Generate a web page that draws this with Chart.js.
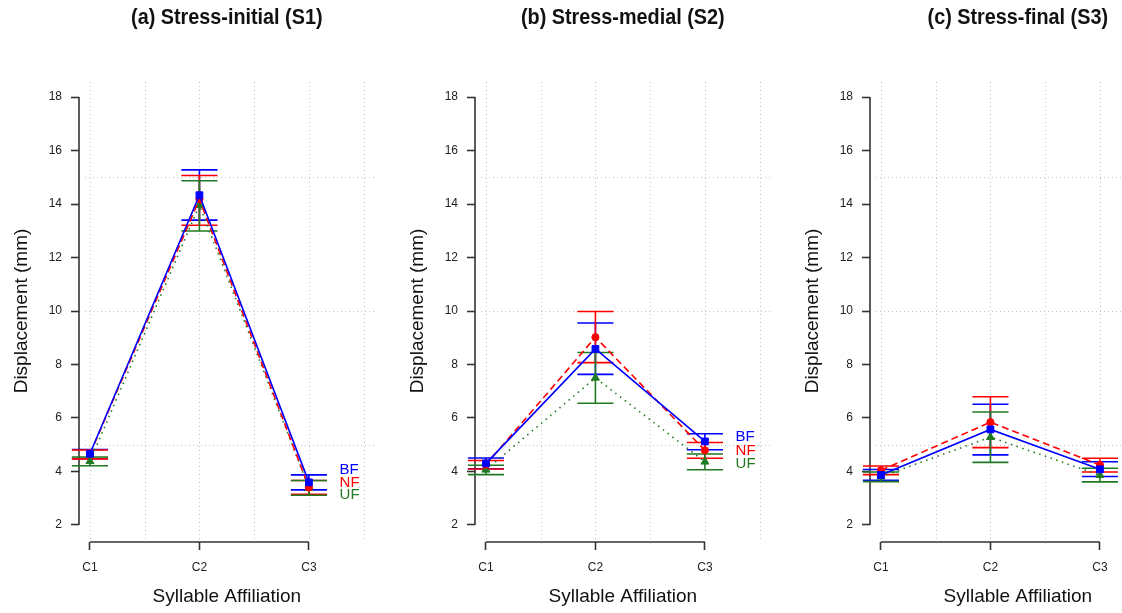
<!DOCTYPE html>
<html><head><meta charset="utf-8">
<script src="https://cdn.jsdelivr.net/npm/chart.js@4.4.1/dist/chart.umd.min.js"></script>
<style>
html,body{margin:0;padding:0;background:#fff;overflow:hidden;width:1122px;height:613px;position:relative;}
.p{position:absolute;top:0;width:400px;height:613px;}
</style></head><body>
<div class="p" style="left:0px"><canvas id="c1" width="400" height="613"></canvas></div>
<div class="p" style="left:396px"><canvas id="c2" width="400" height="613"></canvas></div>
<div class="p" style="left:791px"><canvas id="c3" width="400" height="613"></canvas></div>
<script>
// ---------- data ----------
const categories = ['C1', 'C2', 'C3'];
const catX = [1, 2, 3];
const yTickValues = [2, 4, 6, 8, 10, 12, 14, 16, 18];
const gridX = [1, 1.5, 2, 2.5, 3, 3.5];
const gridY = [5, 10, 15];
const seriesNames = ['BF', 'NF', 'UF'];
const panelTitles = ['(a) Stress-initial (S1)', '(b) Stress-medial (S2)', '(c) Stress-final (S3)'];
const yTitle = 'Displacement (mm)';
const xTitle = 'Syllable Affiliation';

// (a) Stress-initial
const s1BF = [4.66, 14.33, 3.59], s1BFlo = [4.48, 13.40, 3.31], s1BFhi = [4.82, 15.28, 3.87];
const s1NF = [4.65, 14.18, 3.40], s1NFlo = [4.47, 13.21, 3.14], s1NFhi = [4.80, 15.07, 3.66];
const s1UF = [4.38, 13.96, 3.38], s1UFlo = [4.21, 12.99, 3.11], s1UFhi = [4.54, 14.87, 3.66];
// (b) Stress-medial
const s2BF = [4.30, 8.58, 5.12], s2BFlo = [4.10, 7.63, 4.81], s2BFhi = [4.50, 9.55, 5.41];
const s2NF = [4.25, 9.02, 4.79], s2NFlo = [4.09, 8.07, 4.49], s2NFhi = [4.41, 9.98, 5.08];
const s2UF = [4.06, 7.50, 4.36], s2UFlo = [3.88, 6.55, 4.06], s2UFhi = [4.23, 8.45, 4.65];
// (c) Stress-final
const s3BF = [3.87, 5.57, 4.08], s3BFlo = [3.67, 4.62, 3.81], s3BFhi = [4.07, 6.51, 4.36];
const s3NF = [4.04, 5.84, 4.24], s3NFlo = [3.88, 4.89, 3.98], s3NFhi = [4.20, 6.79, 4.49];
const s3UF = [3.80, 5.28, 3.86], s3UFlo = [3.62, 4.34, 3.61], s3UFhi = [3.98, 6.22, 4.12];

// ---------- styles ----------
const COL = {BF: '#0000ff', NF: '#ff0000', UF: '#217a21'};
const STY = {
  BF: {dash: [], point: 'rect', r: 4.8},
  NF: {dash: [7, 4], point: 'circle', r: 3.6},
  UF: {dash: [1.5, 4.5], point: 'triangle', r: 4.6}
};
Chart.defaults.font.family = "'Liberation Sans', Arial, Helvetica, sans-serif";
Chart.defaults.color = '#222';

const panelPlugin = {
  id: 'panelDeco',
  beforeDatasetsDraw(chart) {
    const o = chart.options.plugins.panelDeco;
    const {ctx, chartArea: a} = chart;
    const xs = chart.scales.x, ys = chart.scales.y;
    ctx.save();
    // grid (dotted)
    ctx.strokeStyle = '#c4c4c4';
    ctx.lineWidth = 1;
    ctx.setLineDash([1, 3]);
    gridX.forEach(g => {
      const x = Math.round(xs.getPixelForValue(g)) + 0.5;
      ctx.beginPath(); ctx.moveTo(x, a.top + 2); ctx.lineTo(x, a.bottom - 2); ctx.stroke();
    });
    gridY.forEach(g => {
      const y = Math.round(ys.getPixelForValue(g)) + 0.5;
      ctx.beginPath(); ctx.moveTo(a.left + 6, y); ctx.lineTo(a.right, y); ctx.stroke();
    });
    ctx.setLineDash([]);
    // axis lines (R style: from first to last tick)
    ctx.strokeStyle = '#333';
    ctx.lineWidth = 1.6;
    ctx.beginPath();
    ctx.moveTo(a.left, ys.getPixelForValue(yTickValues[0]));
    ctx.lineTo(a.left, ys.getPixelForValue(yTickValues[yTickValues.length - 1]));
    ctx.stroke();
    ctx.beginPath();
    ctx.moveTo(xs.getPixelForValue(catX[0]), a.bottom);
    ctx.lineTo(xs.getPixelForValue(catX[catX.length - 1]), a.bottom);
    ctx.stroke();
    // error bars
    ctx.lineWidth = 1.6;
    seriesNames.forEach(s => {
      const d = o.data[s];
      ctx.strokeStyle = COL[s];
      catX.forEach((cx, i) => {
        const x = xs.getPixelForValue(cx);
        const xl = xs.getPixelForValue(cx - o.cap), xr = xs.getPixelForValue(cx + o.cap);
        const yl = ys.getPixelForValue(d.lo[i]), yh = ys.getPixelForValue(d.hi[i]);
        ctx.beginPath();
        ctx.moveTo(x, yl); ctx.lineTo(x, yh);
        ctx.moveTo(xl, yl); ctx.lineTo(xr, yl);
        ctx.moveTo(xl, yh); ctx.lineTo(xr, yh);
        ctx.stroke();
      });
    });
    ctx.restore();
  },
  afterDraw(chart) {
    const o = chart.options.plugins.panelDeco;
    const {ctx, chartArea: a} = chart;
    const xs = chart.scales.x, ys = chart.scales.y;
    ctx.save();
    ctx.fillStyle = '#111';
    ctx.textAlign = 'center';
    ctx.textBaseline = 'middle';
    ctx.font = "bold 22px 'Liberation Sans Narrow', 'Arial Narrow', 'Liberation Sans', Arial, sans-serif";
    ctx.save();
    ctx.translate((a.left + a.right) / 2, 18);
    ctx.scale(0.9, 1);
    ctx.fillText(o.title, 0, 0);
    ctx.restore();
    if (o.labelY) {
      ctx.font = "15px 'Liberation Sans', Arial, sans-serif";
      ctx.textAlign = 'left';
      seriesNames.forEach((s, i) => {
        ctx.fillStyle = COL[s];
        ctx.fillText(s, xs.getPixelForValue(catX[2] + o.labelDX), ys.getPixelForValue(o.labelY[i]));
      });
    }
    ctx.restore();
  }
};

function makePanel(id, title, data, labelY) {
  const datasets = seriesNames.map(s => ({
    label: s,
    data: catX.map((x, i) => ({x: x, y: data[s].mean[i]})),
    borderColor: COL[s],
    backgroundColor: COL[s],
    borderWidth: 1.6,
    borderDash: STY[s].dash,
    pointStyle: STY[s].point,
    pointRadius: STY[s].r,
    pointBackgroundColor: COL[s],
    pointBorderColor: COL[s],
    pointBorderWidth: 1,
    tension: 0,
    fill: false
  }));
  return new Chart(document.getElementById(id), {
    type: 'line',
    data: {datasets},
    options: {
      responsive: false,
      animation: false,
      layout: {padding: {top: 80, right: 25.4, bottom: 0, left: 0}},
      plugins: {
        legend: {display: false},
        tooltip: {enabled: false},
        panelDeco: {title, data, labelY, labelDX: 0.28, cap: 0.165}
      },
      scales: {
        x: {
          type: 'linear',
          min: 0.9, max: 3.6,
          afterBuildTicks: sc => { sc.ticks = catX.map(v => ({value: v})); },
          afterFit: sc => { sc.height = 71; },
          ticks: {
            autoSkip: false, maxRotation: 0, padding: 10,
            font: {size: 12}, color: '#222',
            callback: (v, i) => categories[i]
          },
          grid: {display: true, drawOnChartArea: false, drawTicks: true, tickLength: 8, tickColor: '#333', tickWidth: 1.6},
          border: {display: false},
          title: {display: true, text: xTitle, font: {size: 19}, color: '#111', padding: {top: 0, bottom: 5}}
        },
        y: {
          type: 'linear',
          min: 1.36, max: 18.64,
          afterBuildTicks: sc => { sc.ticks = yTickValues.map(v => ({value: v})); },
          afterFit: sc => { sc.width = 79; },
          ticks: {padding: 9, font: {size: 12}, color: '#222'},
          grid: {display: true, drawOnChartArea: false, drawTicks: true, tickLength: 8, tickColor: '#333', tickWidth: 1.6},
          border: {display: false},
          title: {display: true, text: yTitle, font: {size: 19}, color: '#111', padding: {top: 10.6, bottom: 0}}
        }
      }
    },
    plugins: [panelPlugin]
  });
}

makePanel('c1', panelTitles[0], {
  BF: {mean: s1BF, lo: s1BFlo, hi: s1BFhi},
  NF: {mean: s1NF, lo: s1NFlo, hi: s1NFhi},
  UF: {mean: s1UF, lo: s1UFlo, hi: s1UFhi}
}, [4.05, 3.58, 3.11]);
makePanel('c2', panelTitles[1], {
  BF: {mean: s2BF, lo: s2BFlo, hi: s2BFhi},
  NF: {mean: s2NF, lo: s2NFlo, hi: s2NFhi},
  UF: {mean: s2UF, lo: s2UFlo, hi: s2UFhi}
}, [5.28, 4.78, 4.28]);
makePanel('c3', panelTitles[2], {
  BF: {mean: s3BF, lo: s3BFlo, hi: s3BFhi},
  NF: {mean: s3NF, lo: s3NFlo, hi: s3NFhi},
  UF: {mean: s3UF, lo: s3UFlo, hi: s3UFhi}
}, null);
</script>
</body></html>
